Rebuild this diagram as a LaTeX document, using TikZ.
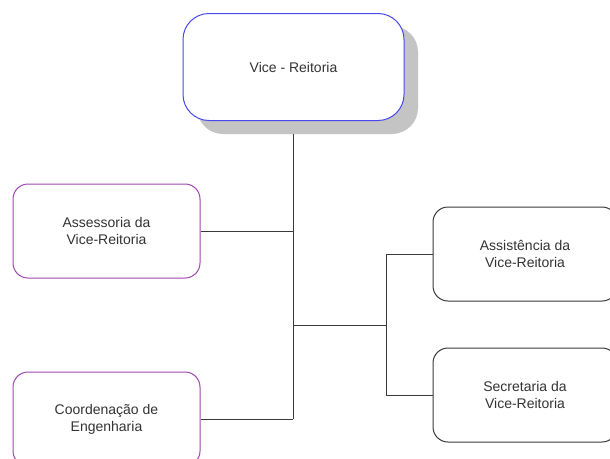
\documentclass[tikz,border=0pt]{standalone}
\usepackage{fontspec}
\setmainfont{Liberation Sans}
\definecolor{topblue}{HTML}{4848F0}
\definecolor{purp}{HTML}{A048B0}
\definecolor{dgray}{HTML}{3A3A3A}
\definecolor{txt}{HTML}{333333}
\definecolor{shad}{HTML}{C4C4C4}
\tikzset{
  unit box/.style={draw, line width=1pt, fill=white, rounded corners=15pt, align=center,
    inner sep=0pt, text=txt, font=\fontsize{14}{17}\selectfont,
    minimum width=187pt, minimum height=94pt},
  topbox/.style={unit box, draw=topblue, rounded corners=26pt, minimum width=221pt, minimum height=107pt},
  leftbox/.style={unit box, draw=purp},
  rightbox/.style={unit box, draw=dgray, minimum width=184pt},
  link/.style={draw=dgray, line width=1pt}
}
\begin{document}
\begin{tikzpicture}[x=1pt,y=-1pt]
\useasboundingbox (0,0) rectangle (610,458);
\clip (0,0) rectangle (610,458);
\fill[white] (0,0) rectangle (610,458);
% shadow of top box
\fill[shad, rounded corners=26pt] (197,26) rectangle (418,134);
\node[topbox] (top) at (293.5,67) {Vice - Reitoria};
\node[leftbox] (ass) at (106.5,231) {Assessoria da\\Vice-Reitoria};
\node[leftbox] (coo) at (106.5,419) {Coordena\c{c}\~ao de\\Engenharia};
\node[rightbox] (asi) at (525,254) {Assist\^encia da\\Vice-Reitoria};
\node[rightbox] (sec) at (525,395) {Secretaria da\\Vice-Reitoria};
\coordinate (jt) at (293,134);
\coordinate (jc) at (293,419);
\coordinate (jm) at (293,325);
\coordinate (jr) at (386,325);
\coordinate (ja) at (386,254);
\coordinate (js) at (386,395);
\draw[link] (jt) -- (jc);
\draw[link] (ass.east) -- (ass.east -| jc);
\draw[link] (coo.east) -- (jc);
\draw[link] (jm) -- (jr);
\draw[link] (ja) -- (js);
\draw[link] (ja) -- (asi.west);
\draw[link] (js) -- (sec.west);
\end{tikzpicture}
\end{document}
